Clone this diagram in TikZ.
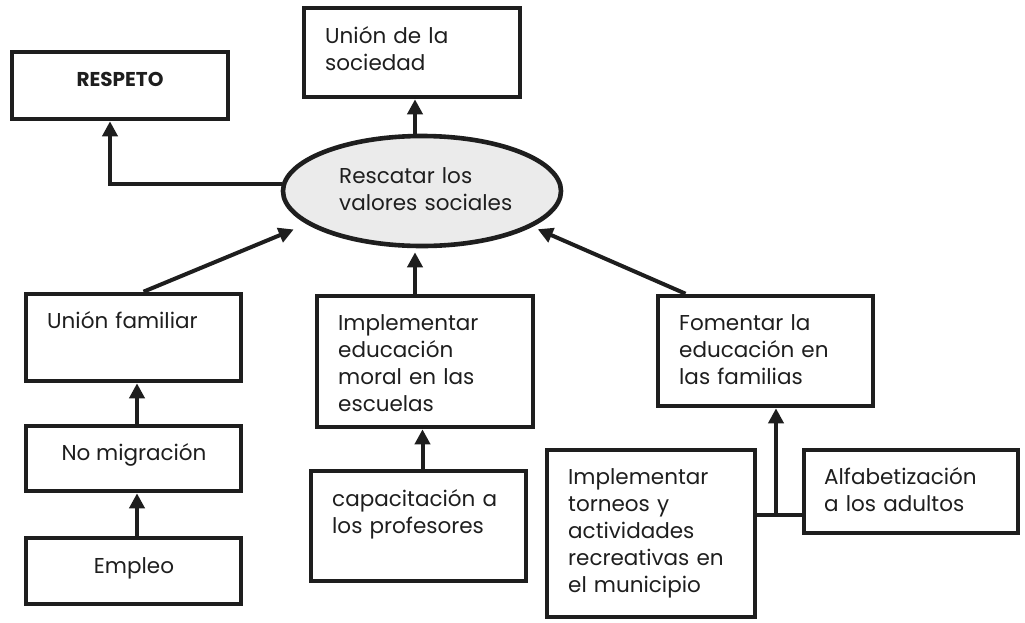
\documentclass[tikz,border=0pt]{standalone}
\usepackage{fontspec}
\setmainfont{Poppins}
\usetikzlibrary{arrows.meta,shapes.geometric}
\definecolor{ink}{HTML}{1E1E1E}
\definecolor{ellfill}{HTML}{EBEBEB}
\begin{document}
\begin{tikzpicture}[x=1pt,y=-1pt,
  box/.style={draw=ink,line width=4.6pt,rectangle,inner sep=0pt},
  lbl/.style={anchor=base west,align=left,inner sep=0pt,text=ink,font=\fontsize{21.5}{27}\selectfont,text width=220pt},
  clbl/.style={anchor=base,inner sep=0pt,text=ink,font=\fontsize{21.5}{27}\selectfont},
  arr/.style={draw=ink,line width=4pt,-{Triangle[length=15pt,width=15pt]}},
  ln/.style={draw=ink,line width=4pt}]
\fill[white] (0,0) rectangle (1025,622);
\useasboundingbox (0,0) rectangle (1025,622);
% boxes
\node[box,minimum width=216pt,minimum height=67pt] (resp) at (120,85.5) {};
\node[box,minimum width=216pt,minimum height=89pt] (usoc) at (412,52.5) {};
\node[box,minimum width=215pt,minimum height=87pt] (ufam) at (133.5,337.5) {};
\node[box,minimum width=215pt,minimum height=65pt] (nomig) at (133.5,458.5) {};
\node[box,minimum width=215pt,minimum height=66pt] (empl) at (133.5,571) {};
\node[box,minimum width=216pt,minimum height=131pt] (impl) at (425,361.5) {};
\node[box,minimum width=215pt,minimum height=110pt] (capac) at (418.5,526) {};
\node[box,minimum width=215pt,minimum height=110pt] (fom) at (765.5,351) {};
\node[box,minimum width=208pt,minimum height=167pt] (torn) at (651,533.5) {};
\node[box,minimum width=214pt,minimum height=83pt] (alfab) at (911,491.5) {};
\node[ellipse,draw=ink,fill=ellfill,line width=4.6pt,inner sep=0pt,minimum width=278pt,minimum height=110pt] (ell) at (422,191) {};
% texts
\node[anchor=base,inner sep=0pt,text=ink,font=\fontsize{20}{24}\selectfont\bfseries] (tresp) at (120,86) {RESPETO};
\node[lbl] (tusoc) at (325,43) {Unión de la\\sociedad};
\node[lbl] (tell) at (339,183) {Rescatar los\\valores sociales};
\node[lbl] (tufam) at (47,328) {Unión familiar};
\node[clbl] (tnomig) at (134,460) {No migración};
\node[clbl] (templ) at (134,573) {Empleo};
\node[lbl] (timpl) at (338,330) {Implementar\\educación\\moral en las\\escuelas};
\node[lbl] (tcapac) at (332,506) {capacitación a\\los profesores};
\node[lbl] (tfom) at (679,330) {Fomentar la\\educación en\\las familias};
\node[lbl] (ttorn) at (568,484) {Implementar\\torneos y\\actividades\\recreativas en\\el municipio};
\node[lbl] (talf) at (824,484) {Alfabetización\\a los adultos};
% connectors
\draw[arr] (ell.177) -| ([xshift=-10pt]resp.south);
\draw[arr] ([xshift=3pt]usoc.south |- ell.north) -- ([xshift=3pt]usoc.south);
\draw[arr,shorten >=14pt] ([xshift=10pt]ufam.north) -- (ell.196);
\draw[arr,shorten >=4pt] ([xshift=-10pt]impl.north) -- ([xshift=-10pt]impl.north |- ell.south);
\draw[arr,shorten >=6pt] ([xshift=-80pt]fom.north) -- (ell.342);
\draw[arr] ([xshift=3.5pt]nomig.north) -- ([xshift=3.5pt]ufam.south);
\draw[arr] ([xshift=3.5pt]empl.north) -- ([xshift=3.5pt]nomig.south);
\draw[arr] ([xshift=4pt]capac.north) -- ([xshift=4pt]capac.north |- impl.south);
\coordinate (j) at (776,515);
\draw[ln] (torn.east |- j) -- (alfab.west |- j);
\draw[arr] (j) -- (j |- fom.south);
\end{tikzpicture}
\end{document}
